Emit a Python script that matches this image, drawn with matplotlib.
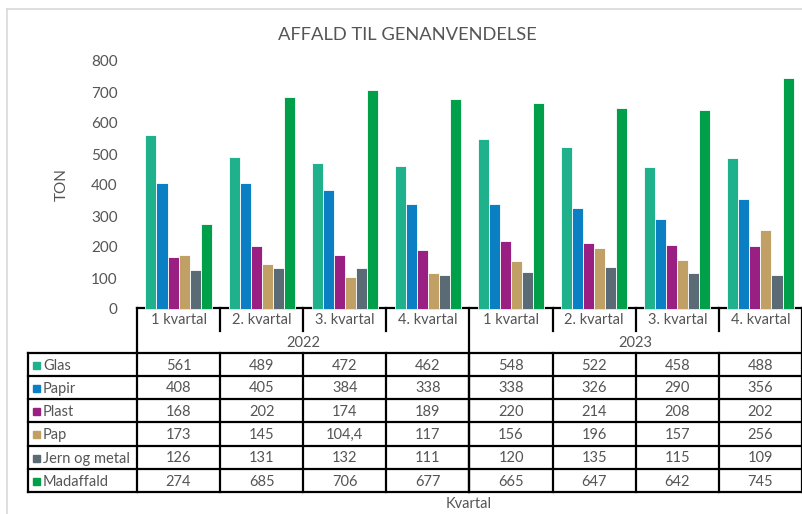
import numpy as np
import matplotlib.pyplot as plt

# -----------------------------
# Data
# -----------------------------
quarters = ["1 kvartal", "2. kvartal", "3. kvartal", "4. kvartal",
            "1 kvartal", "2. kvartal", "3. kvartal", "4. kvartal"]
years = ["2022", "2023"]
series_names = ["Glas", "Papir", "Plast", "Pap", "Jern og metal", "Madaffald"]
glas = [561, 489, 472, 462, 548, 522, 458, 488]
papir = [408, 405, 384, 338, 338, 326, 290, 356]
plast = [168, 202, 174, 189, 220, 214, 208, 202]
pap = [173, 145, 104.4, 117, 156, 196, 157, 256]
jern = [126, 131, 132, 111, 120, 135, 115, 109]
madaffald = [274, 685, 706, 677, 665, 647, 642, 745]
yticks = [0, 100, 200, 300, 400, 500, 600, 700, 800]

colors = ["#1fb18b", "#0b7fc4", "#9a1f82", "#c0a064", "#5b6b75", "#00a04a"]
TXT = "#555555"

plt.rcParams["font.family"] = ["Lato", "DejaVu Sans"]

W, H = 803, 514
fig = plt.figure(figsize=(W / 100, H / 100), dpi=100)

# overlay in pixel coords for the frame and the data table
ov = fig.add_axes([0, 0, 1, 1])
ov.set_xlim(0, W)
ov.set_ylim(H, 0)
ov.axis("off")

# light chart frame
ov.plot([7, 7], [9, H], color="#d9d9d9", lw=1.2)
ov.plot([7, W], [9, 9], color="#d9d9d9", lw=1.2)

# -----------------------------
# Bars
# -----------------------------
px_left, px_right, px_top, px_bottom = 137, 802, 61, 309
ax = fig.add_axes([px_left / W, 1 - px_bottom / H,
                   (px_right - px_left) / W, (px_bottom - px_top) / H])
ax.patch.set_alpha(0)

all_series = [glas, papir, plast, pap, jern, madaffald]
x = np.arange(len(quarters))
step = 0.133
for j, (vals, c) in enumerate(zip(all_series, colors)):
    ax.bar(x + (j - 2.5) * step, vals, width=step, color=c,
           edgecolor="white", linewidth=0.6)

ax.set_xlim(-0.5, len(quarters) - 0.5)
ax.set_ylim(0, 800)
ax.set_yticks(yticks)
ax.tick_params(axis="y", length=0, pad=14, labelsize=11, labelcolor=TXT)
ax.set_xticks([])
for s in ax.spines.values():
    s.set_visible(False)

fig.text(62 / W, 1 - 185 / H, "TON", rotation=90, ha="center", va="center",
         fontsize=11, color=TXT)
fig.text(407 / W, 1 - 35 / H, "AFFALD TIL GENANVENDELSE", ha="center",
         va="center", fontsize=13.2, color=TXT)
fig.text(469 / W, 1 - 504 / H, "Kvartal", ha="center", va="center",
         fontsize=10.5, color=TXT)

# -----------------------------
# Data table under the chart
# -----------------------------
col_w = (px_right - px_left) / len(quarters)
col_x = [px_left + i * col_w for i in range(len(quarters) + 1)]
tbl_left = 28
y_top, y_q, y_hdr = 308, 331, 353
row_y = [353, 376, 399, 422, 446, 469, 492]
lw = 1.6
k = "black"

# header block
ov.plot([px_left, px_right], [y_top, y_top], color=k, lw=lw)
ov.plot([px_left, px_left], [y_top, y_hdr], color=k, lw=lw)
ov.plot([px_right, px_right], [y_top, row_y[-1]], color=k, lw=lw)
mid = col_x[4]
ov.plot([mid, mid], [y_top, row_y[-1]], color=k, lw=lw)
for i in range(1, len(quarters)):
    if i != 4:
        ov.plot([col_x[i], col_x[i]], [y_top, y_q], color=k, lw=lw)
for i, q in enumerate(quarters):
    ov.text(col_x[i] + col_w / 2, (y_top + y_q) / 2 + 1, q, ha="center",
            va="center", fontsize=10.5, color=TXT)
for g, yr in enumerate(years):
    cx = (col_x[g * 4] + col_x[g * 4 + 4]) / 2
    ov.text(cx, (y_q + y_hdr) / 2 + 1, yr, ha="center", va="center",
            fontsize=10.5, color=TXT)

# body grid
for yy in row_y:
    ov.plot([tbl_left, px_right], [yy, yy], color=k, lw=lw)
ov.plot([tbl_left, tbl_left], [row_y[0], row_y[-1]], color=k, lw=lw)
for cxl in col_x[:-1]:
    ov.plot([cxl, cxl], [row_y[0], row_y[-1]], color=k, lw=lw)


def fmt(v):
    if float(v).is_integer():
        return str(int(v))
    return str(v).replace(".", ",")


for r, (name, vals, c) in enumerate(zip(series_names, all_series, colors)):
    cy = (row_y[r] + row_y[r + 1]) / 2 + 1
    ov.add_patch(plt.Rectangle((33, cy - 4), 7, 7, color=c))
    ov.text(43, cy, name, ha="left", va="center", fontsize=10.5, color=TXT)
    for i, v in enumerate(vals):
        ov.text(col_x[i] + col_w / 2, cy, fmt(v), ha="center", va="center",
                fontsize=10.5, color=TXT)

fig.savefig("out.png", dpi=100)
